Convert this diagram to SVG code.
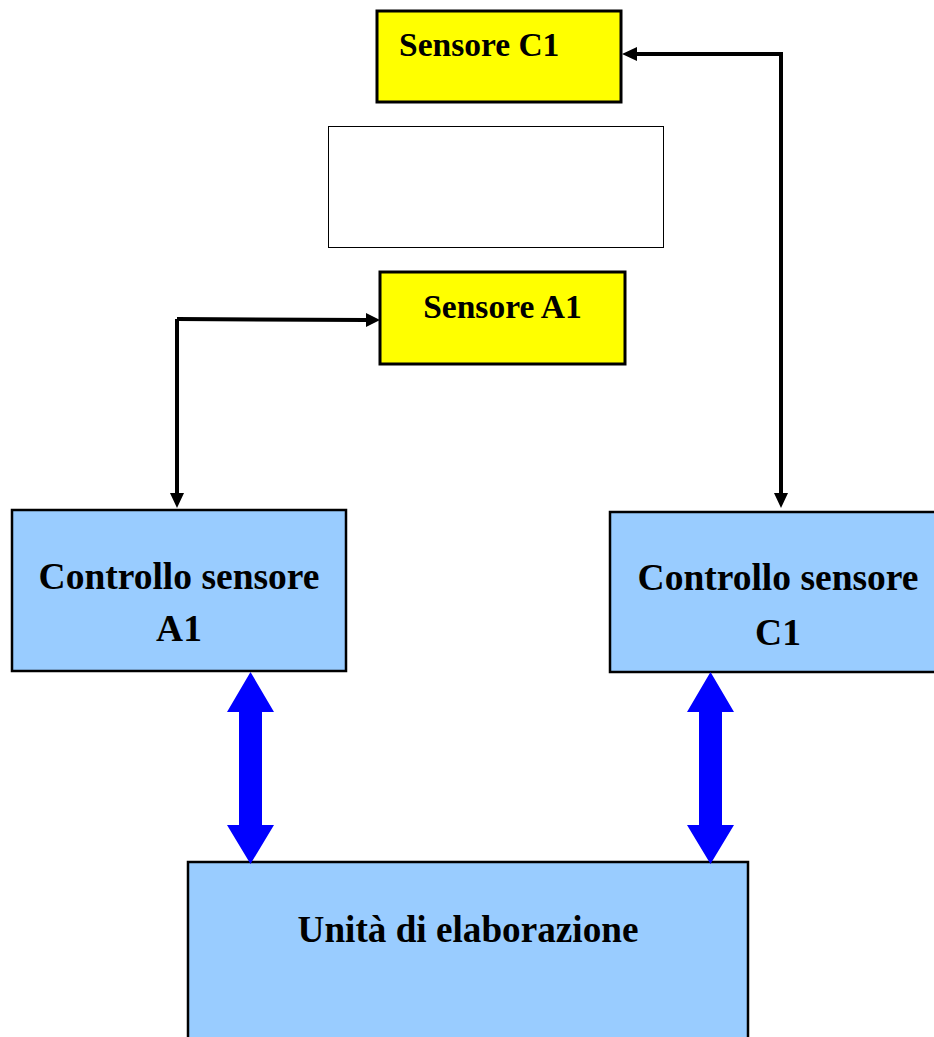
<svg xmlns="http://www.w3.org/2000/svg" width="934" height="1037" viewBox="0 0 934 1037">
<style>
.yel{fill:#FFFF00;stroke:#000;stroke-width:3}
.blu{fill:#99CCFF;stroke:#000;stroke-width:2.5}
.t{font-family:"Liberation Serif","Times New Roman",serif;font-weight:bold;fill:#000}
.ln{fill:none;stroke:#000;stroke-width:4}
.dbl{fill:#0000FF}
</style>
<g id="sensore-c1">
<rect class="yel" x="377" y="11" width="244" height="91"/>
<text class="t" x="399" y="56" font-size="33.5">Sensore C1</text>
</g>
<g id="empty-box">
<rect x="328.5" y="126.5" width="335" height="121" fill="#fff" stroke="#000" stroke-width="1"/>
</g>
<g id="sensore-a1">
<rect class="yel" x="380" y="272" width="245" height="92"/>
<text class="t" x="502.5" y="318" font-size="33.5" text-anchor="middle">Sensore A1</text>
</g>
<g id="controllo-a1">
<rect class="blu" x="12" y="510" width="334" height="161"/>
<text class="t" x="179" y="589" font-size="37.5" text-anchor="middle">Controllo sensore</text>
<text class="t" x="179" y="641" font-size="37.5" text-anchor="middle">A1</text>
</g>
<g id="controllo-c1">
<rect class="blu" x="610" y="512" width="330" height="160"/>
<text class="t" x="778" y="590" font-size="37.5" text-anchor="middle">Controllo sensore</text>
<text class="t" x="778" y="645" font-size="37.5" text-anchor="middle">C1</text>
</g>
<g id="unita">
<rect class="blu" x="188" y="862" width="560" height="185"/>
<text class="t" x="468" y="942" font-size="37.2" text-anchor="middle">Unità di elaborazione</text>
</g>
<g id="connectors">
<path class="ln" d="M177,319 L366,320"/>
<path d="M366,313 L380,320 L366,327 Z" fill="#000"/>
<path class="ln" d="M177,319 L177,494"/>
<path d="M170,493 L177,508 L184,493 Z" fill="#000"/>
<path class="ln" d="M781,55 L781,494"/>
<path d="M774,493 L781,508 L788,493 Z" fill="#000"/>
<path class="ln" d="M783,54 L636,54"/>
<path d="M637,47 L622,54 L637,61 Z" fill="#000"/>
<path class="dbl" d="M250.5,672 L274,712 L262,712 L262,825 L274,825 L250.5,864 L227,825 L239,825 L239,712 L227,712 Z"/>
<path class="dbl" d="M710.5,672 L734,712 L722,712 L722,825 L734,825 L710.5,864 L687,825 L699,825 L699,712 L687,712 Z"/>
</g>
</svg>
